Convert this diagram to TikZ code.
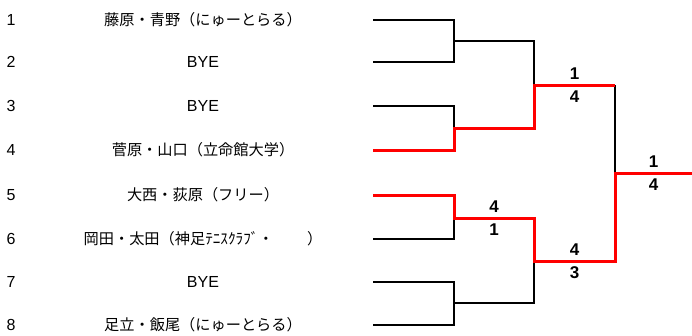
\documentclass[tikz,border=0pt]{standalone}
\usepackage{fontspec}
\setmainfont{Liberation Sans}
\newfontfamily\jpfont{Noto Sans CJK JP}
\newcommand{\bye}{{\rmfamily\fontsize{16}{16}\selectfont BYE}}
\begin{document}
\begin{tikzpicture}[x=1pt,y=-1pt,every node/.style={black,inner sep=0pt},
  seed/.style={font=\fontsize{16}{16}\selectfont},
  pair/.style={font=\jpfont\fontsize{15.2}{15}\selectfont},
  score/.style={font=\bfseries\fontsize{17}{17}\selectfont},
  line width=2pt]
\useasboundingbox (0,0) rectangle (692,335);

% draw rows
\foreach \i/\y/\t in {1/20/藤原・青野（にゅーとらる）, 2/62/\bye, 3/106/\bye,
  4/150/菅原・山口（立命館大学）, 5/195/大西・荻原（フリー）,
  6/239/岡田・太田（神足ﾃﾆｽｸﾗﾌﾞ・\hspace{2.2em}）, 7/282/\bye,
  8/325/足立・飯尾（にゅーとらる）} {
  \node[seed] (n\i) at (11,\y) {\i};
  \node[pair] (t\i) at (203,\y) {\t};
  \coordinate (p\i) at (373,\y);
}

\coordinate (m1) at (454,41);
\coordinate (m2) at (454,128);
\coordinate (m3) at (454,218);
\coordinate (m4) at (454,303);
\coordinate (s1) at (534,85);
\coordinate (s2) at (534,261);
\coordinate (f) at (615,173);
\coordinate (w) at (692,173);

\draw (p1) -| (m1) -| (s1);
\draw (p2) -| (m1);
\draw (p3) -| (m2);
\draw (p6) -| (m3);
\draw (p7) -| (m4) -| (s2);
\draw (p8) -| (m4);
\draw (s1 -| f) -- (f);

\draw[red, line width=3pt] (p4) -| (m2) -| (s1) -- (s1 -| f);
\draw[red, line width=3pt] (p5) -| (m3) -| (s2) -| (f) -- (w);

\path (s1) -- (s1 -| f) node[score,midway,yshift=11pt] (a1) {1}
  node[score,midway,yshift=-12pt] (a2) {4};
\path (m3) -- (m3 -| s2) node[score,midway,yshift=11pt] (b1) {4}
  node[score,midway,yshift=-12pt] (b2) {1};
\path (s2) -- (s2 -| f) node[score,midway,yshift=11pt] (c1) {4}
  node[score,midway,yshift=-12pt] (c2) {3};
\path (f) -- (w) node[score,midway,yshift=11pt] (d1) {1}
  node[score,midway,yshift=-12pt] (d2) {4};
\end{tikzpicture}
\end{document}
